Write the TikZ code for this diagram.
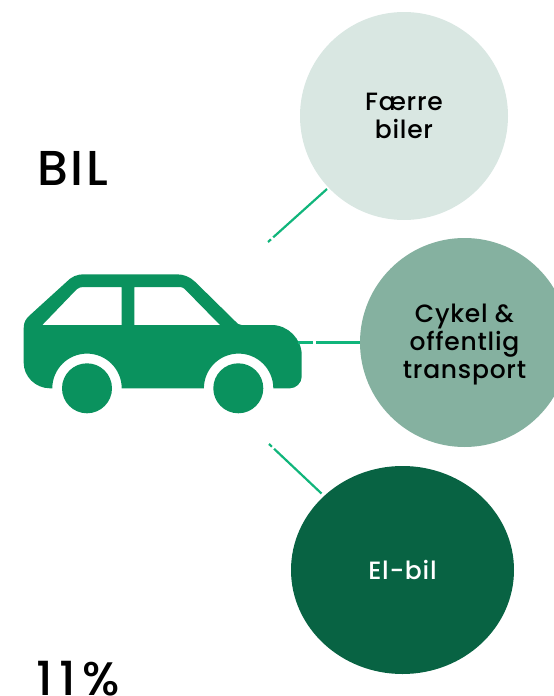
\documentclass[tikz,border=0pt]{standalone}
\usepackage{fontspec}
\setmainfont{Poppins Medium}
\newfontfamily\bodyf{Poppins Medium}[LetterSpace=3]
\newfontfamily\headf{Poppins Medium}[LetterSpace=6]
\newfontfamily\pctf{Poppins Medium}[LetterSpace=14]
\usetikzlibrary{shapes.geometric}
\definecolor{cargreen}{HTML}{0A925E}
\definecolor{linegreen}{HTML}{10B57B}
\definecolor{lightc}{HTML}{D9E7E2}
\definecolor{midc}{HTML}{85B1A0}
\definecolor{darkc}{HTML}{086343}
\tikzset{
  bubble/.style={circle,inner sep=0pt,minimum size=#1,align=center,font=\bodyf\fontsize{25}{28}\selectfont},
  heading/.style={anchor=base west,inner sep=0pt,text=black},
  spoke/.style={draw=linegreen,line width=2.2pt,dash pattern=on 4pt off 3pt on 400pt},
}
\begin{document}
\begin{tikzpicture}[x=1pt,y=-1pt]
\useasboundingbox (0,0) rectangle (554,696);
\node[bubble=208pt,fill=lightc,text=black] (few) at (404,116) {Færre\\biler};
\node[bubble=209pt,fill=midc,text=black] (bike) at (464.5,342.5) {\rule{0pt}{23pt}Cykel \&\\offentlig\\transport};
\node[ellipse,inner sep=0pt,minimum width=223pt,minimum height=208pt,fill=darkc,text=white,font=\bodyf\fontsize{25}{28}\selectfont] (ev) at (402.5,570) {El-bil};
\node[heading,font=\headf\fontsize{49}{52}\selectfont] (bil) at (37,185) {BIL};
\node[heading,font=\pctf\fontsize{47}{50}\selectfont] (pct) at (36,695) {11\%};
% car
\fill[cargreen,even odd rule]
 (23.7,328) .. controls (23.7,322) and (26,319) .. (29,316)
 -- (66.7,281.7) .. controls (71,277) and (77,274.3) .. (83.3,274.3)
 -- (176.7,274.3) .. controls (184,274.3) and (190,277) .. (195,281.7)
 -- (235,321) .. controls (237,323.5) and (239,325) .. (241.7,325)
 -- (271.7,325) .. controls (288,325) and (301.7,339) .. (301.7,355)
 -- (301.7,376.7) .. controls (301.7,383) and (296,388.3) .. (290,388.3)
 -- (273.3,388.3) arc[start angle=0,end angle=180,x radius=34.7,y radius=-34.7]
 -- (121.7,388.3) arc[start angle=0,end angle=180,x radius=34.7,y radius=-34.7]
 -- (50,388.3) .. controls (35,388.3) and (23.7,376) .. (23.7,363) -- cycle
 (42.3,325) -- (76.7,289.3) .. controls (78.5,287.7) and (81,287) .. (83.3,287) -- (121.7,287) -- (121.7,325) -- cycle
 (134.3,325) -- (134.3,287) -- (180,287) .. controls (182,287) and (184,288) .. (185,289.3) -- (220,325) -- cycle;
\node[circle,fill=cargreen,minimum size=50pt,inner sep=0pt] (wheelA) at (87,388.3) {};
\node[circle,fill=cargreen,minimum size=50pt,inner sep=0pt] (wheelB) at (238.3,388.3) {};
% connectors
\coordinate (endA) at (268,242);
\coordinate (endB) at (298,342.5);
\coordinate (endC) at (269,444);
\coordinate (tipA) at (327,189);
\coordinate (tipC) at (321.5,493.5);
\draw[spoke] (endA) -- (tipA);
\draw[draw=linegreen,line width=2.2pt,dash pattern=on 15pt off 3pt on 400pt] (endB) -- (bike.west);
\draw[spoke] (endC) -- (tipC);
\end{tikzpicture}
\end{document}
